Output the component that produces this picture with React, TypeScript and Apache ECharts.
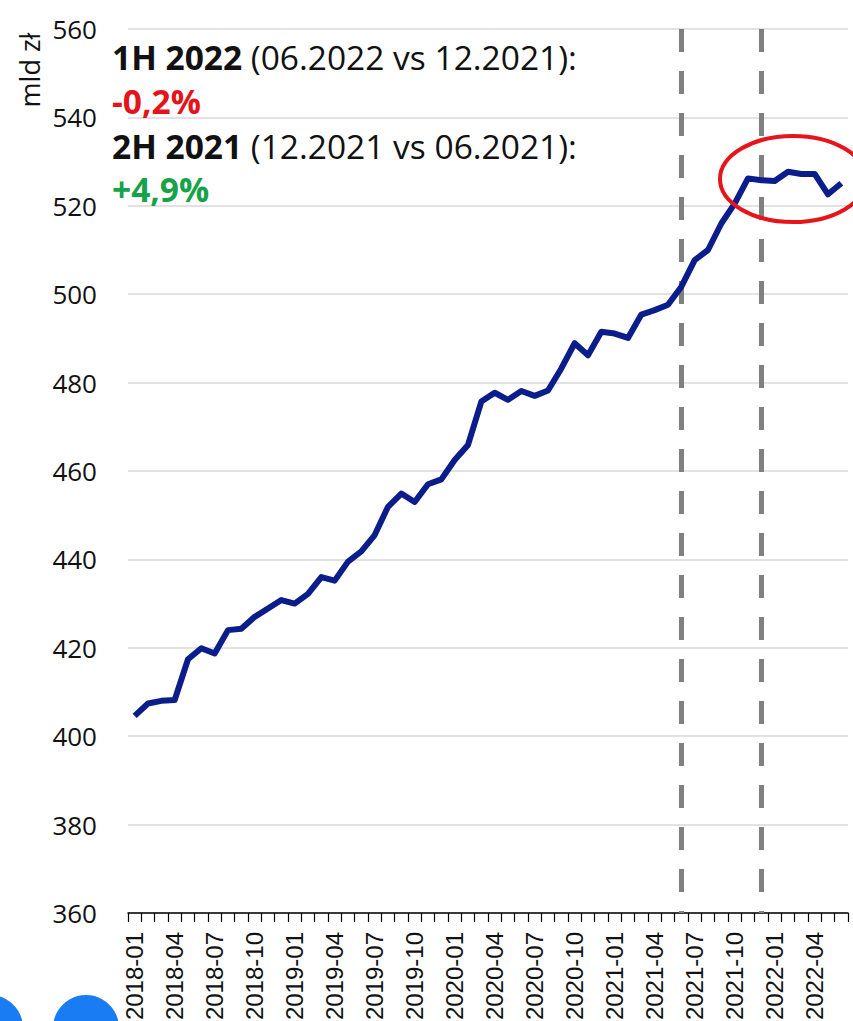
import React, { useEffect, useRef } from "react";
import * as echarts from "echarts";

const months: string[] = [];
for (let y = 2018; y <= 2022; y++) {
  for (let m = 1; m <= 12; m++) {
    if (y === 2022 && m > 6) break;
    months.push(`${y}-${m < 10 ? "0" + m : m}`);
  }
}

const values: number[] = [
  404.6, 407.4, 408.0, 408.2, 417.4, 419.9, 418.7, 424.0, 424.3, 427.0, 428.9, 430.8,
  430.0, 432.2, 436.0, 435.2, 439.5, 441.8, 445.5, 451.9, 454.9, 453.0, 457.0, 458.1,
  462.5, 465.9, 475.7, 477.7, 476.1, 478.1, 477.0, 478.2, 483.2, 488.9, 486.2, 491.5,
  491.1, 490.1, 495.4, 496.4, 497.6, 501.7, 507.7, 510.0, 516.0, 520.5, 526.2, 525.8,
  525.6, 527.7, 527.2, 527.2, 522.6, 525.1,
];

const markMonths: string[] = ["2021-06", "2021-12"];
const yMin = 360;
const yMax = 560;
const yStep = 20;

const noteLines = [
  { text: "{b|1H 2022} (06.2022 vs 12.2021):", color: "#111111" },
  { text: "{b|-0,2%}", color: "#e3141b" },
  { text: "{b|2H 2021} (12.2021 vs 06.2021):", color: "#111111" },
  { text: "{b|+4,9%}", color: "#17a24a" },
];

export default function App() {
  const ref = useRef<HTMLDivElement>(null);
  useEffect(() => {
    if (!ref.current) return;
    const chart = echarts.init(ref.current, undefined, { renderer: "svg" });
    const noteY = [57, 101, 146, 189];
    const fs = 33.5;
    const option: any = {
      animation: false,
      backgroundColor: "#ffffff",
      grid: { left: 128, right: 5, top: 29, bottom: 108, containLabel: false, outerBoundsMode: "none" },
      xAxis: {
        type: "category",
        data: months,
        boundaryGap: true,
        axisLine: { show: true, lineStyle: { color: "#000", width: 1.5 } },
        axisTick: { show: true, interval: 0, length: 9, lineStyle: { color: "#000", width: 1.2 } },
        axisLabel: {
          interval: 2,
          rotate: 90,
          margin: 19,
          fontFamily: "Liberation Sans",
          fontSize: 24,
          color: "#111",
        },
        splitLine: { show: false },
      },
      yAxis: {
        type: "value",
        min: yMin,
        max: yMax,
        interval: yStep,
        axisLine: { show: false },
        axisTick: { show: false },
        axisLabel: { fontFamily: "Open Sans", fontSize: 26, color: "#111", margin: 31 },
        splitLine: { lineStyle: { color: "#d9d9d9", width: 1.5 } },
      },
      series: [
        {
          type: "line",
          data: values,
          symbol: "none",
          lineStyle: { color: "#0b1d8a", width: 6, join: "round" },
          itemStyle: { color: "#0b1d8a" },
          z: 3,
          markLine: {
            silent: true,
            symbol: ["none", "none"],
            label: { show: false },
            lineStyle: { color: "#808080", width: 5, type: [23, 19] },
            data: markMonths.map((m) => [
              { coord: [m, yMax] },
              { coord: [m, yMin] },
            ]),
            z: 2,
          },
        },
      ],
      graphic: [
        ...noteLines.map((n, i) => ({
          type: "text",
          x: 112,
          y: noteY[i],
          style: {
            text: n.text,
            fill: n.color,
            fontFamily: "Open Sans",
            fontSize: fs,
            verticalAlign: "middle",
            align: "left",
            rich: { b: { fontWeight: "bold", fontFamily: "Open Sans", fontSize: fs, fill: n.color } },
          },
          z: 10,
        })),
        {
          type: "text",
          x: 29,
          y: 70,
          rotation: Math.PI / 2,
          style: {
            text: "mld zł",
            fill: "#111",
            fontFamily: "Open Sans",
            fontSize: 27,
            align: "center",
            verticalAlign: "middle",
          },
        },
        {
          type: "ellipse",
          shape: { cx: 793, cy: 179, rx: 73, ry: 43 },
          style: { fill: "none", stroke: "#e8141c", lineWidth: 4 },
          z: 10,
        },
        {
          type: "circle",
          shape: { cx: -10, cy: 1028, r: 33 },
          style: { fill: "#1a7cf2" },
          z: 20,
        },
        {
          type: "circle",
          shape: { cx: 86, cy: 1028, r: 33 },
          style: { fill: "#1a7cf2" },
          z: 20,
        },
      ],
    };
    chart.setOption(option);
    return () => chart.dispose();
  }, []);
  return (
    <div
      ref={ref}
      style={{ position: "fixed", left: 0, top: 0, width: 853, height: 1021 }}
    />
  );
}
